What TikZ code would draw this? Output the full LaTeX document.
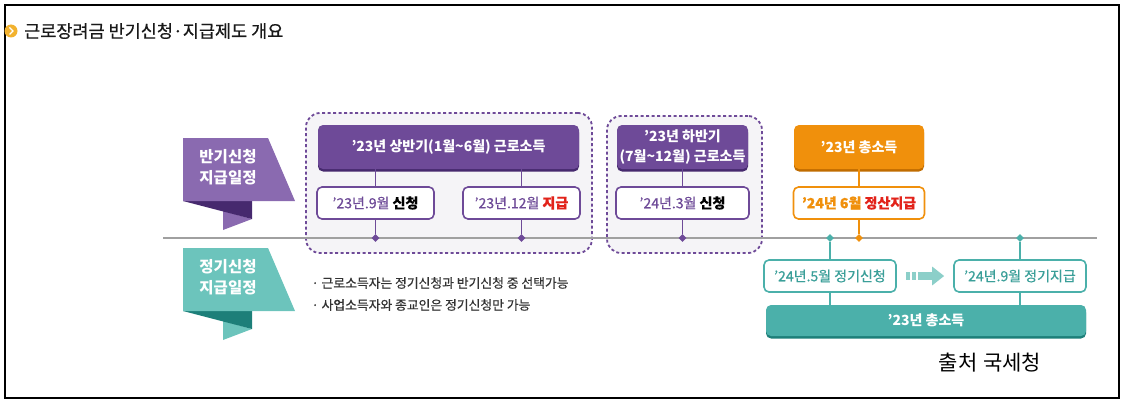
\documentclass[tikz,border=0pt]{standalone}
\usepackage{fontspec}
\setmainfont{Noto Sans CJK KR}
\newfontfamily\medfont[FakeBold=0.6]{Noto Sans CJK KR}
\usetikzlibrary{arrows.meta,shapes.geometric,shadows}
\definecolor{purp}{HTML}{6E4A98}
\definecolor{purpdark}{HTML}{46296E}
\definecolor{purplight}{HTML}{8A6AB0}
\definecolor{tealc}{HTML}{4BB0AA}
\definecolor{tealdark}{HTML}{1D7F79}
\definecolor{teallight}{HTML}{6CC4BC}
\definecolor{tealtext}{HTML}{3A9F99}
\definecolor{arrowteal}{HTML}{8CCFC9}
\definecolor{orng}{HTML}{F0900C}
\definecolor{orngdark}{HTML}{C06C00}
\definecolor{redc}{HTML}{E2231A}
\definecolor{groupfill}{HTML}{F5F4F7}
\definecolor{linegray}{HTML}{A0A0A0}
\definecolor{bulletc}{HTML}{F2B22E}
\definecolor{darktext}{HTML}{333333}
\newcommand{\boxfont}{\fontsize{14}{19.5}\selectfont}
\tikzset{
  headbox/.style n args={2}{rounded corners=5pt, fill=#1, general shadow={fill=#2, shadow yshift=-2.5pt},
    text=white, font=\boxfont\bfseries, minimum height=44pt, align=center, inner sep=0pt},
  datebox/.style={draw=#1, line width=1.6pt, fill=white, rounded corners=5pt,
    minimum height=32pt, inner sep=0pt, font=\boxfont\medfont},
  groupbox/.style={draw=purp, dash pattern=on 3pt off 2.5pt, line width=1.8pt,
    fill=groupfill, rounded corners=14pt, inner sep=0pt},
  marker/.style={diamond, fill=#1, inner sep=0pt, minimum size=8pt},
  link/.style={draw=#1, line width=1.2pt},
  ribbontext/.style={text=white, font=\fontsize{15.5}{21}\selectfont\bfseries, align=center},
  notetext/.style={anchor=west, text=darktext, font=\fontsize{12.8}{15}\selectfont\medfont}
}
\begin{document}
\begin{tikzpicture}[x=1pt,y=-1pt]
  \useasboundingbox (0,0) rectangle (1126,404);
  % Frame and title
  \draw[line width=1.2pt] (5,5) rectangle (1119,398);
  \node[circle, fill=bulletc, minimum size=13pt, inner sep=0pt] (bullet) at (11,31) {};
  \draw[white, line width=1.3pt] (9.5,27.5) -- (13,31) -- (9.5,34.5);
  \node[anchor=west, text=black!90, font=\fontsize{17.5}{20}\selectfont\medfont, inner sep=0pt] (title) at (24,31)
    {근로장려금 반기신청·지급제도 개요};
  % Ribbons
  \fill[purplight] (223,211) -- (252,219) -- (223,230) -- cycle;
  \fill[purpdark] (183,201) -- (252,201) -- (252,219) -- cycle;
  \fill[purplight] (183,138) -- (268,138) -- (295,201) -- (183,201) -- cycle;
  \node[ribbontext] (halflabel) at (228,167) {반기신청\\지급일정};
  \fill[teallight] (223,321) -- (252,329) -- (223,340) -- cycle;
  \fill[tealdark] (183,311) -- (252,311) -- (252,329) -- cycle;
  \fill[teallight] (183,248) -- (268,248) -- (295,311) -- (183,311) -- cycle;
  \node[ribbontext] (reglabel) at (228,277) {정기신청\\지급일정};
  % Dashed groups
  \node[groupbox, minimum width=286pt, minimum height=140pt] (group1) at (449,183) {};
  \node[groupbox, minimum width=155pt, minimum height=137pt] (group2) at (684.5,184.5) {};
  % Time axis
  \coordinate (axisL) at (163,238);
  \coordinate (axisR) at (1097,238);
  \draw[linegray, line width=2pt] (axisL) -- (axisR);
  % Half-year boxes
  \node[headbox={purp}{purpdark}, minimum width=261pt] (first) at (448.5,147) {’23년 상반기(1월\textasciitilde6월) 근로소득};
  \node[datebox=purp, minimum width=117pt] (apply1) at (375.5,203) {\textcolor{purp}{’23년.9월} \textbf{신청}};
  \node[datebox=purp, minimum width=117pt] (pay1) at (521.5,203) {\textcolor{purp}{’23년.12월} \textbf{\textcolor{redc}{지급}}};
  \node[headbox={purp}{purpdark}, minimum width=131pt] (second) at (682.5,147) {’23년 하반기\\(7월\textasciitilde12월) 근로소득};
  \node[datebox=purp, minimum width=133pt] (apply2) at (682.5,203) {\textcolor{purp}{’24년.3월} \textbf{신청}};
  \node[headbox={orng}{orngdark}, minimum width=130pt] (total) at (859,147) {’23년 총소득};
  \node[datebox=orng, minimum width=131pt] (settle) at (859,203) {\textbf{\textcolor{orng}{’24년 6월} \textcolor{redc}{정산지급}}};
  % Regular boxes
  \node[datebox=tealc, minimum width=132pt, text=tealtext] (regapply) at (830,276) {’24년.5월 정기신청};
  \node[datebox=tealc, minimum width=132pt, text=tealtext] (regpay) at (1020,276) {’24년.9월 정기지급};
  \node[headbox={tealc}{tealdark}, minimum width=320pt, minimum height=31pt] (regtotal) at (926,320.5) {’23년 총소득};
  % Markers
  \node[marker=purp] (m1) at (375.5,238) {};
  \node[marker=purp] (m2) at (521.5,238) {};
  \node[marker=purp] (m3) at (682.5,238) {};
  \node[marker=tealc] (m4) at (830,238) {};
  \node[marker=orng] (m5) at (859,238) {};
  \node[marker=tealc] (m6) at (1020,238) {};
  % Connectors
  \draw[link=purp] (first.south -| apply1) -- (apply1.north);
  \draw[link=purp] (apply1.south) -- (m1.north);
  \draw[link=purp] (first.south -| pay1) -- (pay1.north);
  \draw[link=purp] (pay1.south) -- (m2.north);
  \draw[link=purp] (second.south) -- (apply2.north);
  \draw[link=purp] (apply2.south) -- (m3.north);
  \draw[link=orng] (total.south) -- (settle.north);
  \draw[link=orng] (settle.south) -- (m5.north);
  \draw[link=tealc] (m4.south) -- (regapply.north);
  \draw[link=tealc] (regapply.south) -- (regapply.south |- regtotal.north);
  \draw[link=tealc] (m6.south) -- (regpay.north);
  \draw[link=tealc] (regpay.south) -- (regpay.south |- regtotal.north);
  \draw[arrowteal, line width=8pt, dash pattern=on 4pt off 2pt on 4pt off 2pt on 40pt,
    -{Triangle[length=12pt,width=18pt]}, shorten <=9pt, shorten >=9pt] (regapply) -- (regpay);
  % Notes
  \node[notetext] (note1) at (308,283) {· 근로소득자는 정기신청과 반기신청 중 선택가능};
  \node[notetext] (note2) at (308,305) {· 사업소득자와 종교인은 정기신청만 가능};
  \node[font=\fontsize{21}{24}\selectfont] (source) at (990,363) {출처\hspace{6pt}국세청};
\end{tikzpicture}
\end{document}
